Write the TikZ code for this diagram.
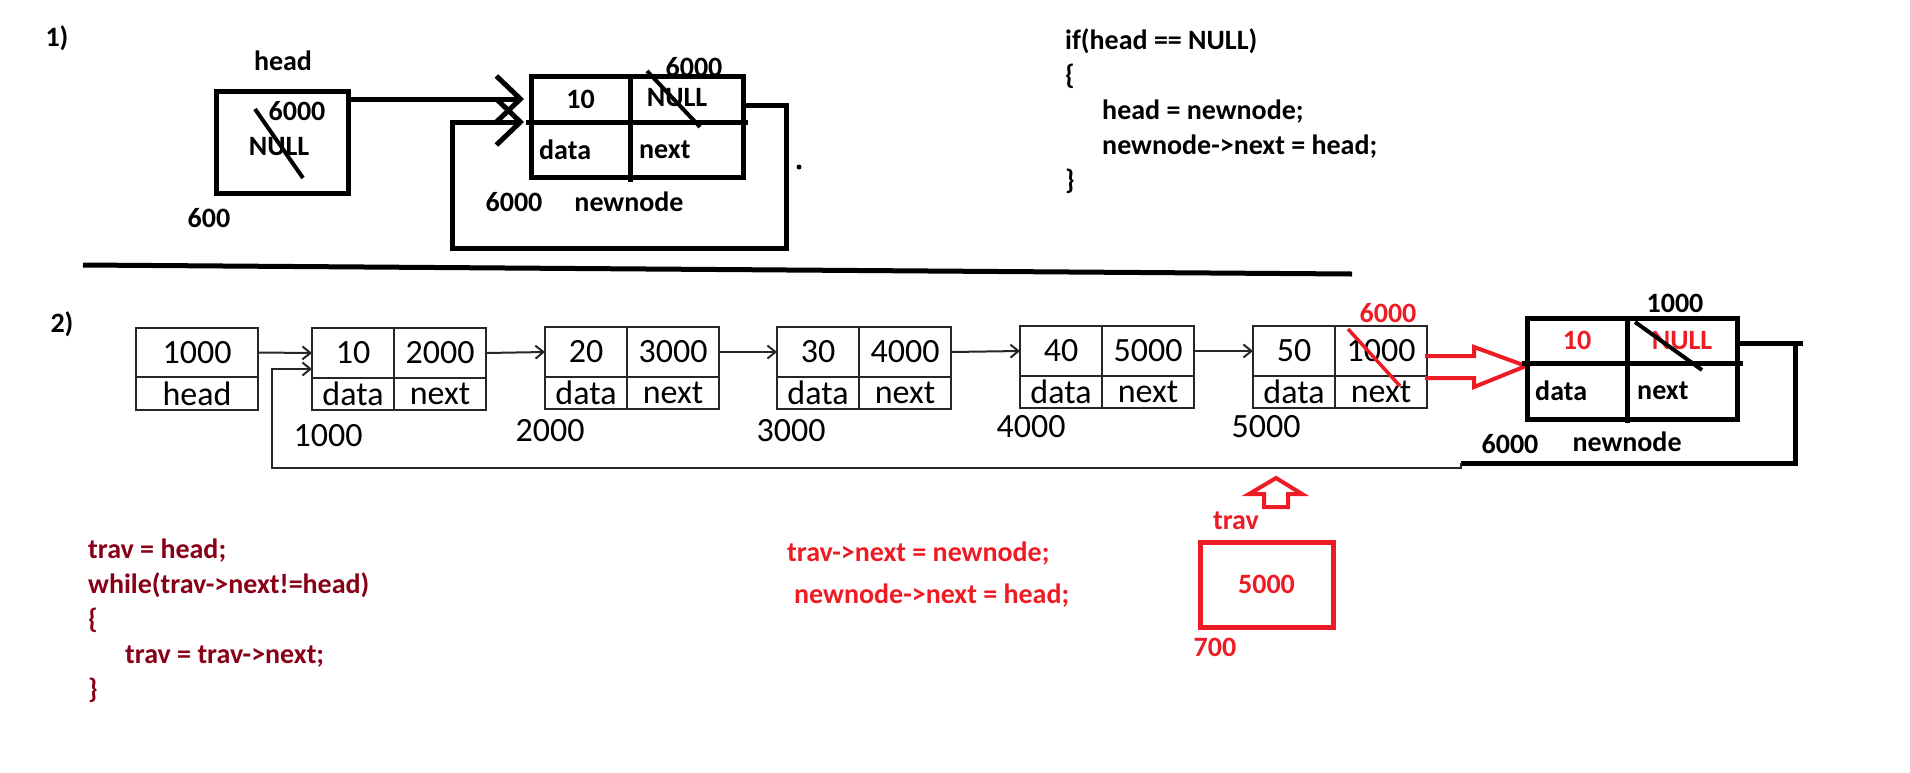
\documentclass[tikz,border=0pt]{standalone}
\usepackage{fontspec}
\setmainfont{Carlito}
\usetikzlibrary{positioning,arrows.meta}
\definecolor{pen}{RGB}{237,28,36}
\definecolor{maroon}{RGB}{136,0,21}
\tikzset{
  lbl/.style={font=\fontsize{28}{35}\selectfont\bfseries,inner sep=0pt},
  lst/.style={font=\fontsize{34}{40}\selectfont,inner sep=0pt},
  code/.style={lbl,align=left,anchor=north west},
  cell/.style 2 args={draw=black!85,line width=2pt,inner sep=0pt,outer sep=0pt,anchor=north west,
    minimum width=#1,minimum height=#2,font=\fontsize{34}{40}\selectfont},
  big/.style 2 args={draw,line width=5pt,inner sep=0pt,outer sep=0pt,anchor=north west,
    minimum width=#1,minimum height=#2,font=\fontsize{28}{35}\selectfont\bfseries},
  hand/.style={line width=5pt},
  thin/.style={line width=2pt,draw=black!85},
  arr/.style={-{Straight Barb[length=8pt,width=13pt]}},
  harr/.style={-{Straight Barb[length=24pt,width=46pt]},shorten >=7pt},
  hollow/.style={draw=pen,line width=4pt,line join=miter}
}
\begin{document}
\begin{tikzpicture}[x=1pt,y=-1pt]
  \useasboundingbox (0,0) rectangle (1910,772);
  % 1) empty list
  \node[lbl] (one) at (57,38) {1)};
  \node[big={132pt}{102pt}] (hp) at (216,91) {};
  \node[lbl] (hname) at (283,61) {head};
  \node[lbl] at (297,111) {6000};
  \node[lbl] at (279,147) {NULL};
  \draw[line width=4pt] (255,109) -- (303,178);
  \node[lbl] at (209,218) {600};
  \node[big={99pt}{46pt}] (av) at (531,76) {10};
  \node[big={113pt}{46pt}] (ap) at (av.north east) {};
  \node[big={99pt}{55pt}] (ad) at (av.south west) {};
  \node[big={113pt}{55pt}] (ax) at (ad.north east) {};
  \draw[hand] ([xshift=-5pt]ad.north west) -- ([xshift=5pt]ax.north east);
  \draw[hand] (ax.north west) -- ([yshift=-5pt]ax.south west);
  \node[lbl] at (677,98) {NULL};
  \node[lbl] at (694,67) {6000};
  \draw[line width=4pt] (647,71) -- (700,127);
  \node[lbl,right=8pt of ad.west] {data};
  \node[lbl,right=9pt of ax.west] {next};
  \node[lbl] at (514,202) {6000};
  \node[lbl] at (629,202) {newnode};
  \draw[hand,harr] ([yshift=43pt]hp.east) -- (av.west);
  \draw[hand,harr] ([yshift=-6pt]ap.east) -- ++(43,0) -- ++(0,143)
    -| ([xshift=-79pt]ad.north west) -- (ad.north west);
  \fill (799,167) circle (2.5pt);
  \node[code] (ifc) at (1065,29) {if(head == NULL)\\\{\\\hspace*{37pt}head = newnode;\\\hspace*{37pt}newnode->next = head;\\\}};
  \draw[hand] (83,265) -- (1352,274);
  % 2) insert at end
  \node[lbl] (two) at (62,324) {2)};
  \node[cell={122pt}{49pt}] (hv) at (136,328) {1000};
  \node[cell={122pt}{33pt}] (hn) at (hv.south west) {head};
  \node[cell={82pt}{50pt}] (v1) at (312,328) {10};
  \node[cell={92pt}{50pt}] (p1) at (v1.north east) {2000};
  \node[cell={82pt}{32pt}] (d1) at (v1.south west) {data};
  \node[cell={92pt}{32pt}] (x1) at (d1.north east) {next};
  \node[cell={82pt}{50pt}] (v2) at (545,327) {20};
  \node[cell={92pt}{50pt}] (p2) at (v2.north east) {3000};
  \node[cell={82pt}{32pt}] (d2) at (v2.south west) {data};
  \node[cell={92pt}{32pt}] (x2) at (d2.north east) {next};
  \node[cell={82pt}{50pt}] (v3) at (777,327) {30};
  \node[cell={92pt}{50pt}] (p3) at (v3.north east) {4000};
  \node[cell={82pt}{32pt}] (d3) at (v3.south west) {data};
  \node[cell={92pt}{32pt}] (x3) at (d3.north east) {next};
  \node[cell={82pt}{50pt}] (v4) at (1020,326) {40};
  \node[cell={92pt}{50pt}] (p4) at (v4.north east) {5000};
  \node[cell={82pt}{32pt}] (d4) at (v4.south west) {data};
  \node[cell={92pt}{32pt}] (x4) at (d4.north east) {next};
  \node[cell={82pt}{50pt}] (v5) at (1253,326) {50};
  \node[cell={92pt}{50pt}] (p5) at (v5.north east) {1000};
  \node[cell={82pt}{32pt}] (d5) at (v5.south west) {data};
  \node[cell={92pt}{32pt}] (x5) at (d5.north east) {next};
  \node[lst] at (328,436) {1000};
  \node[lst] at (550,431) {2000};
  \node[lst] at (791,431) {3000};
  \node[lst] at (1031,427) {4000};
  \node[lst] at (1266,427) {5000};
  \draw[thin,arr] (hv.east) -- (v1.west);
  \draw[thin,arr] (p1.east) -- (v2.west);
  \draw[thin,arr] (p2.east) -- (v3.west);
  \draw[thin,arr] (p3.east) -- (v4.west);
  \draw[thin,arr] (p4.east) -- (v5.west);
  \node[lbl,text=pen] at (1388,313) {6000};
  \draw[pen,line width=3.5pt] (1348,329) -- (1400,386);
  \draw[hollow] (1425,356) -- (1474,356) -- (1474,347) -- (1526,366)
    -- (1474,387) -- (1474,378) -- (1425,378);
  % new node
  \node[big={100pt}{45pt},text=pen] (bv) at (1527,318) {10};
  \node[big={110pt}{45pt},text=pen] (bp) at (bv.north east) {NULL};
  \node[big={100pt}{56pt}] (bd) at (bv.south west) {};
  \node[big={110pt}{56pt}] (bx) at (bd.north east) {};
  \draw[hand] ([xshift=-5pt]bd.north west) -- ([xshift=6pt]bx.north east);
  \draw[hand] (bx.north west) -- ([yshift=-4pt]bx.south west);
  \node[lbl,right=8pt of bd.west] {data};
  \node[lbl,right=10pt of bx.west] {next};
  \node[lbl] at (1675,303) {1000};
  \draw[line width=4pt] (1635,322) -- (1702,370);
  \node[lbl] at (1510,444) {6000};
  \node[lbl] at (1627,442) {newnode};
  \coordinate (turn) at (1461,463);
  \draw[hand] ([yshift=-3pt]bp.east) -- ++(66,0);
  \draw[hand] ([xshift=58pt,yshift=-3pt]bp.east) |- (turn);
  \draw[thin,arr] (turn) -- ++(0,5) -- (272,468) |- ([yshift=-16pt]v1.west);
  % trav pointer
  \draw[hollow] (1264,507) -- (1264,494) -- (1249,494) -- (1276,478)
    -- (1302,494) -- (1288,494) -- (1288,507) -- cycle;
  \node[lbl,text=pen] (tname) at (1236,521) {trav};
  \node[draw=pen,line width=5pt,minimum width=133pt,minimum height=85pt,lbl,text=pen] (tb) at (1266.5,584.5) {5000};
  \node[lbl,text=pen] at (1215,647) {700};
  \node[lbl,text=pen,anchor=base west] (s1) at (787,561) {trav->next = newnode;};
  \node[lbl,text=pen,anchor=base west] (s2) at (794,603) {newnode->next = head;};
  \node[code,text=maroon] (loop) at (88,539) {trav = head;\\while(trav->next!=head)\\\{\\\hspace*{37pt}trav = trav->next;\\\}};
\end{tikzpicture}
\end{document}
